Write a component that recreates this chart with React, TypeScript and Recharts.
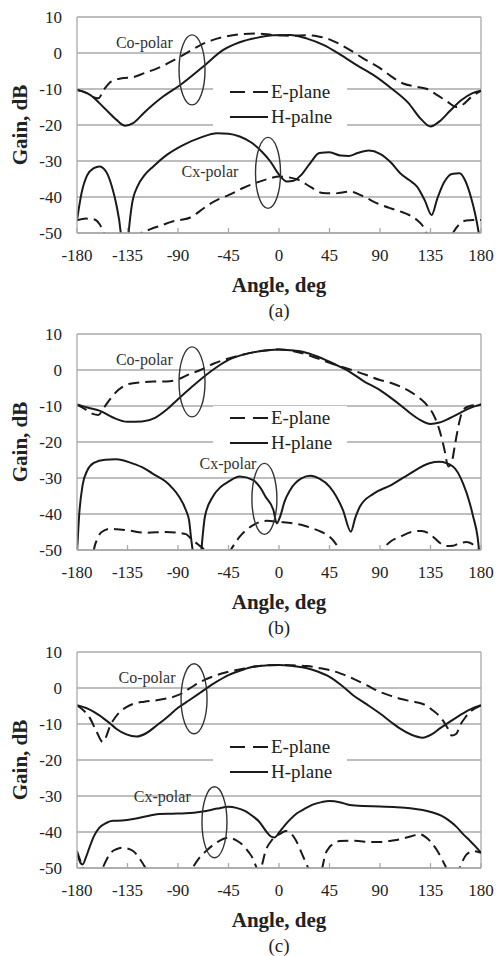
import React from 'react';
import { LineChart, Line, XAxis, YAxis, CartesianGrid, ReferenceLine, ReferenceDot, Legend } from 'recharts';

type Pt = [number, number];

const xTicks = [-180, -135, -90, -45, 0, 45, 90, 135, 180];
const yTicks = [10, 0, -10, -20, -30, -40, -50];
const panelLetters = ['(a)', '(b)', '(c)'];
const legendE = 'E-plane';
const legendH = ['H-palne', 'H-plane', 'H-plane'];

// ---------- Panel (a) ----------
const aCoE: Pt[] = [[-180,-10.3],[-172,-11],[-166,-12.2],[-161,-12.6],[-156,-10.2],[-150,-8],[-140,-7],[-130,-6.7],[-120,-5.6],[-108,-4.2],[-98,-2.7],[-88,-1],[-78,0.8],[-70,2.2],[-60,3.5],[-50,4.4],[-35,5.2],[-20,5.4],[-5,5],[10,4.8],[25,4.9],[35,4.6],[45,3.8],[55,2.3],[65,0.5],[75,-1.5],[90,-4.2],[100,-6.5],[110,-8.4],[123,-9.4],[132,-10],[141,-11.7],[150,-13.5],[158,-15],[164,-14.3],[171,-12.3],[180,-10.5]];
const aCoH: Pt[] = [[-180,-10.3],[-168,-11.7],[-155,-15.5],[-145,-18.5],[-137,-20.2],[-130,-19.5],[-120,-16.5],[-105,-12.5],[-88,-8.9],[-68,-3.9],[-50,0.8],[-35,3],[-20,4.2],[-5,4.9],[10,5],[25,4],[40,2.2],[55,-0.5],[70,-3.5],[85,-6.3],[100,-9.8],[115,-13.8],[127,-18.5],[135,-20.4],[143,-19],[152,-16.2],[162,-13.2],[172,-11.2],[180,-10.5]];
const aCxE: Pt[] = [[-180,-46.5],[-172,-46],[-165,-46.2],[-160,-47.5],[-156,-50],[-152,-54],[-140,-56],[-128,-51.5],[-124,-50.3],[-115,-49],[-104,-47.8],[-95,-46.8],[-88,-46.4],[-79,-45.7],[-70,-43.8],[-62,-42],[-55,-40.8],[-45,-39.5],[-32,-37.5],[-20,-36],[-10,-35],[0,-34.3],[8,-34.5],[18,-35.3],[28,-37.2],[39,-38.9],[50,-39],[63,-38.5],[75,-39.8],[87,-41.7],[100,-43.2],[108,-44],[116,-45],[123,-46.4],[128,-48],[132,-50.5],[138,-55],[148,-55],[155,-50],[161,-47.5],[167,-46.5],[173,-46.4],[180,-46.4]];
const aCxH: Pt[] = [[-180,-46.5],[-176,-39],[-171,-34],[-165,-32],[-160,-31.5],[-154,-33],[-149,-37],[-145,-42],[-141,-50],[-139,-58],[-136,-58],[-134,-50],[-131,-42],[-126,-37],[-120,-34],[-112,-31.5],[-100,-28.3],[-85,-25.5],[-70,-23.5],[-55,-22.3],[-45,-22.4],[-35,-23.2],[-25,-24.8],[-15,-27.5],[-8,-30],[0,-33.8],[7,-35.7],[13,-35.5],[20,-33.8],[28,-30.5],[36,-27.8],[45,-27.6],[55,-28.5],[62,-28.6],[70,-27.8],[80,-27.1],[90,-28],[100,-30.5],[108,-33.4],[116,-35.3],[123,-37.1],[130,-41],[136,-45],[141,-40.5],[147,-36],[154,-33.6],[161,-33.4],[166,-35.5],[171,-40],[175,-45],[178,-50],[180,-54]];

// ---------- Panel (b) ----------
const bCoE: Pt[] = [[-180,-9.6],[-172,-11],[-166,-12.2],[-161,-12.5],[-156,-10.5],[-151,-8.3],[-143,-5.5],[-134,-3.9],[-122,-3.4],[-112,-3.2],[-100,-3.2],[-90,-2.6],[-80,-1.2],[-70,0],[-58,1.8],[-45,3.2],[-33,4.2],[-23,4.9],[-10,5.5],[0,5.7],[10,5.4],[20,4.7],[30,3.7],[45,2],[60,0.5],[78,-1.4],[90,-2.8],[100,-3.6],[108,-4.6],[118,-6.2],[126,-8],[132,-9.8],[137,-12],[143,-16.7],[147,-21.5],[151,-26.8],[154,-25.5],[157,-20.4],[161,-14],[164,-11.1],[170,-10],[180,-9.6]];
const bCoH: Pt[] = [[-180,-9.6],[-170,-10.5],[-160,-11.3],[-148,-13.2],[-135,-14.4],[-122,-14.3],[-110,-13.2],[-100,-11],[-90,-8.1],[-78,-4.8],[-65,-1.4],[-55,0.9],[-45,2.8],[-35,4],[-23,4.9],[-10,5.5],[0,5.7],[10,5.5],[22,5],[33,3.9],[45,2.3],[55,0.8],[63,-0.5],[75,-3],[90,-5.6],[100,-7.8],[108,-9.7],[117,-12],[126,-13.9],[135,-15],[143,-14.6],[152,-13.4],[161,-12],[170,-10.6],[180,-9.6]];
const bCxE: Pt[] = [[-167,-55],[-165,-50],[-162,-47],[-158,-45],[-150,-44.1],[-142,-44.3],[-134,-44.6],[-118,-45.2],[-101,-45],[-90,-45.2],[-83,-45.6],[-78,-47],[-72,-48.5],[-66,-50.2],[-60,-54],[-50,-54],[-43,-50],[-35,-46.3],[-23,-43.1],[-11,-41.9],[0,-42.2],[13,-42.6],[22,-43.2],[30,-44],[38,-45],[45,-46.3],[50,-48],[54,-50],[60,-54],[80,-55],[88,-52],[92,-50],[100,-47.5],[108,-46.3],[118,-45],[127,-44.7],[133,-45.3],[138,-46.5],[144,-48.2],[149,-48.9],[155,-48.8],[161,-48.1],[167,-47.8],[172,-48.3],[176,-49.5],[179,-51]];
const bCxH: Pt[] = [[-180,-51],[-178,-40],[-175,-32],[-171,-28],[-165,-25.8],[-155,-24.9],[-145,-24.8],[-131,-25.9],[-120,-27.3],[-113,-28.7],[-101,-31],[-95,-32.8],[-89,-35.2],[-83,-38.9],[-80,-42],[-78.5,-46.3],[-77,-50],[-74,-58],[-70,-53],[-68,-46],[-66,-40.7],[-59,-35.2],[-52,-32.5],[-45,-31],[-35,-29.6],[-23,-30.6],[-16,-33],[-12,-35.2],[-5,-38.9],[-2,-42.6],[1,-40.7],[5,-36.5],[10,-33.3],[20,-30.1],[28,-29.4],[36,-30.2],[45,-32.4],[57,-38.9],[64,-44.9],[68,-41],[72,-38],[84,-34.4],[99,-32.1],[116,-28.9],[134,-25.9],[143,-25.5],[155,-26.8],[164,-31.5],[170,-37],[173,-40.7],[177,-46.5],[180,-56]];

// ---------- Panel (c) ----------
const cCoE: Pt[] = [[-180,-4.8],[-175,-6],[-169,-8.1],[-163,-11.8],[-157,-15],[-154,-13.5],[-151,-10.9],[-146,-8.2],[-142,-6.7],[-136,-5.3],[-130,-4.4],[-120,-3.8],[-109,-3.4],[-100,-2.9],[-90,-2],[-80,-0.2],[-70,1.7],[-58,3.3],[-45,4.5],[-33,5.3],[-23,5.9],[-10,6.3],[0,6.4],[12,6.3],[25,6.1],[35,5.6],[45,5],[55,4],[66,2.6],[78,0.8],[90,-1.1],[100,-2.2],[108,-3],[118,-3.7],[127,-4.3],[132,-5],[137,-6.2],[142,-7.5],[146,-9],[150,-11],[154,-13.2],[158,-12.7],[162,-10],[166,-8.2],[170,-6.7],[175,-5.6],[180,-4.8]];
const cCoH: Pt[] = [[-180,-4.8],[-170,-5.8],[-160,-7.6],[-150,-10],[-145,-11.3],[-136,-12.9],[-127,-13.5],[-118,-12.5],[-109,-10.4],[-100,-8.2],[-90,-5.5],[-80,-3.4],[-70.6,-1.4],[-58,1.3],[-45,3.6],[-33,5],[-23,5.9],[-10,6.3],[0,6.4],[12,6.1],[25,5.5],[35,4.5],[45,3.1],[55,0.9],[66,-2],[78,-4.5],[90,-7.1],[100,-9.5],[108,-11.3],[118,-13],[128,-13.8],[136,-12.9],[143,-11.3],[152,-9.4],[161,-7.6],[170,-6],[180,-4.8]];
const cCxE: Pt[] = [[-180,-45.3],[-177,-48],[-175,-49.8],[-172,-53],[-165,-56],[-160,-53],[-157,-50],[-153,-47.3],[-150,-45.8],[-145,-44.8],[-140,-44.4],[-135,-44.6],[-130,-45.3],[-124,-47.5],[-119,-50],[-113,-54],[-95,-57],[-82,-53],[-77,-50],[-71,-47.2],[-65,-45.3],[-55,-42.8],[-45,-41.6],[-38,-42.3],[-33,-43.4],[-27,-45.6],[-23.5,-47.2],[-19,-50.5],[-17.5,-51],[-16,-50],[-12,-45.3],[-7,-42.5],[-2,-41],[1,-40.5],[6,-39.7],[11,-40.5],[14.5,-42],[18,-44.2],[20.5,-46.1],[26,-50],[31,-54],[36,-52],[38.5,-50],[41,-46.5],[44.5,-44.4],[49,-43.2],[54,-42.5],[62,-42.4],[71,-42.5],[80,-42.8],[90,-42.8],[100,-42.4],[108,-42],[118,-41.2],[125,-40.6],[131,-41.5],[137,-43.4],[142,-45.7],[146,-48.1],[149,-50],[153,-54],[157,-54],[161,-50],[164,-47.8],[167,-46.3],[173,-45.3],[180,-45.8]];
const cCxH: Pt[] = [[-180,-45.8],[-177,-48.5],[-175,-49],[-172,-47],[-169,-44.4],[-165,-41.2],[-160,-38.8],[-154,-37.5],[-148,-36.9],[-140,-36.8],[-130,-36.4],[-118,-35.6],[-107,-35],[-95,-34.9],[-83,-34.8],[-68,-34.3],[-55,-33.5],[-45,-33],[-38,-33.3],[-30,-34.2],[-23,-35.7],[-18,-37],[-11,-40],[-7,-41.3],[-4,-41.5],[0,-40.2],[5,-38.2],[10,-36.5],[16,-34.8],[22,-33.7],[30,-32.4],[38,-31.7],[45,-31.4],[55,-31.8],[63,-32.5],[75,-32.8],[90,-32.9],[105,-33.1],[117,-33.4],[128,-33.9],[137,-34.6],[145,-35.5],[151,-36.7],[158,-38.5],[164,-40.6],[170,-42.4],[175,-44],[180,-45.8]];

// annotation anchors in data coordinates [angle, gain]
const coEllipse: Pt[] = [[-77.5, -4.7], [-77.5, -3.3], [-75.7, -3]];
const cxEllipse: Pt[] = [[-9.8, -33.3], [-13, -35.8], [-57.5, -37.3]];
const coText: Pt[] = [[-120, 2.8], [-120, 3], [-117.6, 3]];
const cxText: Pt[] = [[-61.5, -33], [-45.5, -26], [-104, -30.2]];

const FONT = 'Liberation Serif, Times New Roman, Times, serif';
const GRID = '#a9a9a9';
const INK = '#1a1a1a';

const toData = (pts: Pt[]) => pts.map(([a, g]) => ({ a, g }));

const XTick = (props: any) => {
  const { x, y, payload } = props;
  return (
    <g>
      <line x1={x} x2={x} y1={y} y2={y - 5} stroke={GRID} strokeWidth={1.3} />
      <text x={x} y={y + 28} textAnchor="middle" fontSize={17} fill="#222" style={{ fontFamily: FONT }}>
        {String(payload.value)}
      </text>
    </g>
  );
};

const YTick = (props: any) => {
  const { x, y, payload } = props;
  return (
    <text x={x - 15} y={y + 6} textAnchor="end" fontSize={17} fill="#222" style={{ fontFamily: FONT }}>
      {String(payload.value)}
    </text>
  );
};

const makeEllipse = (rx: number, ry: number) => (p: any) => (
  <ellipse cx={p.cx} cy={p.cy} rx={rx} ry={ry} fill="none" stroke="#333" strokeWidth={1.4} />
);
const makeText = (label: string) => (p: any) => (
  <text x={p.cx} y={p.cy} textAnchor="middle" dominantBaseline="central" fontSize={16} fill="#333" style={{ fontFamily: FONT }}>
    {label}
  </text>
);

const LegendBox = ({ hLabel }: { hLabel: string }) => (
  <div style={{ width: 134, height: 50, background: '#fff', fontFamily: FONT, fontSize: 19, color: '#222', paddingLeft: 17, boxSizing: 'border-box' }}>
    <div style={{ display: 'flex', alignItems: 'center', height: 24 }}>
      <svg width={38} height={6} style={{ display: 'block' }}>
        <line x1={0} x2={38} y1={3} y2={3} stroke={INK} strokeWidth={2} strokeDasharray="15 8" />
      </svg>
      <span style={{ marginLeft: 3, lineHeight: '24px' }}>{legendE}</span>
    </div>
    <div style={{ display: 'flex', alignItems: 'center', height: 25 }}>
      <svg width={38} height={6} style={{ display: 'block' }}>
        <line x1={0} x2={38} y1={3} y2={3} stroke={INK} strokeWidth={2} />
      </svg>
      <span style={{ marginLeft: 3, lineHeight: '25px' }}>{hLabel}</span>
    </div>
  </div>
);

const panels = [
  { top: 0, coE: aCoE, coH: aCoH, cxE: aCxE, cxH: aCxH, legendTop: 80 },
  { top: 317, coE: bCoE, coH: bCoH, cxE: bCxE, cxH: bCxH, legendTop: 89 },
  { top: 635, coE: cCoE, coH: cCoH, cxE: cCxE, cxH: cCxH, legendTop: 100 },
];

const PLOT_TOP = 17;
const PLOT_H = 216;
const AXIS_H = 50;

const Panel = ({ idx }: { idx: number }) => {
  const p = panels[idx];
  const lineProps = { type: 'monotone' as const, dataKey: 'g', dot: false, activeDot: false, isAnimationActive: false, stroke: INK, strokeWidth: 2 };
  return (
    <div style={{ position: 'absolute', left: 0, top: p.top, width: 496, height: 320 }}>
      <LineChart width={496} height={PLOT_TOP + PLOT_H + AXIS_H} margin={{ top: PLOT_TOP, right: 15, bottom: 0, left: 0 }}>
        <CartesianGrid horizontal vertical={false} stroke={GRID} strokeWidth={1.3} />
        <XAxis dataKey="a" type="number" domain={[-180, 180]} ticks={xTicks} interval={0} allowDataOverflow
          tickLine={false} tickSize={0} tickMargin={0} height={AXIS_H} axisLine={{ stroke: GRID, strokeWidth: 1.3 }} tick={<XTick />} />
        <YAxis type="number" domain={[-50, 10]} ticks={yTicks} interval={0} allowDataOverflow width={77}
          tickLine={false} tickSize={0} tickMargin={0} axisLine={{ stroke: GRID, strokeWidth: 1.3 }} tick={<YTick />} />
        <ReferenceLine x={180} stroke={GRID} strokeWidth={1.3} />
        <Legend layout="vertical" align="center" verticalAlign="middle"
          wrapperStyle={{ left: 213, top: p.legendTop, width: 134, height: 50 }}
          content={() => <LegendBox hLabel={legendH[idx]} />} />
        <Line {...lineProps} data={toData(p.coE)} strokeDasharray="11 6" name="Co E" />
        <Line {...lineProps} data={toData(p.coH)} name="Co H" />
        <Line {...lineProps} data={toData(p.cxE)} strokeDasharray="11 6" name="Cx E" />
        <Line {...lineProps} data={toData(p.cxH)} name="Cx H" />
        <ReferenceDot x={coEllipse[idx][0]} y={coEllipse[idx][1]} r={0} shape={makeEllipse(13, 35)} />
        <ReferenceDot x={cxEllipse[idx][0]} y={cxEllipse[idx][1]} r={0} shape={makeEllipse(12.5, 35.5)} />
        <ReferenceDot x={coText[idx][0]} y={coText[idx][1]} r={0} shape={makeText('Co-polar')} />
        <ReferenceDot x={cxText[idx][0]} y={cxText[idx][1]} r={0} shape={makeText('Cx-polar')} />
      </LineChart>
      <div style={{ position: 'absolute', left: 20, top: PLOT_TOP + PLOT_H / 2, transform: 'translate(-50%, -50%) rotate(-90deg)', fontFamily: FONT, fontWeight: 'bold', fontSize: 21, whiteSpace: 'nowrap', color: '#222' }}>
        Gain, dB
      </div>
      <div style={{ position: 'absolute', left: 279, top: PLOT_TOP + PLOT_H + 52, transform: 'translate(-50%, -50%)', fontFamily: FONT, fontWeight: 'bold', fontSize: 21, whiteSpace: 'nowrap', color: '#222' }}>
        Angle, deg
      </div>
      <div style={{ position: 'absolute', left: 279, top: PLOT_TOP + PLOT_H + 78, transform: 'translate(-50%, -50%)', fontFamily: FONT, fontSize: 19, whiteSpace: 'nowrap', color: '#222' }}>
        {panelLetters[idx]}
      </div>
    </div>
  );
};

export default function App() {
  return (
    <div style={{ position: 'absolute', left: 0, top: 0, width: 496, height: 956, background: '#fff', overflow: 'hidden' }}>
      <Panel idx={0} />
      <Panel idx={1} />
      <Panel idx={2} />
    </div>
  );
}
